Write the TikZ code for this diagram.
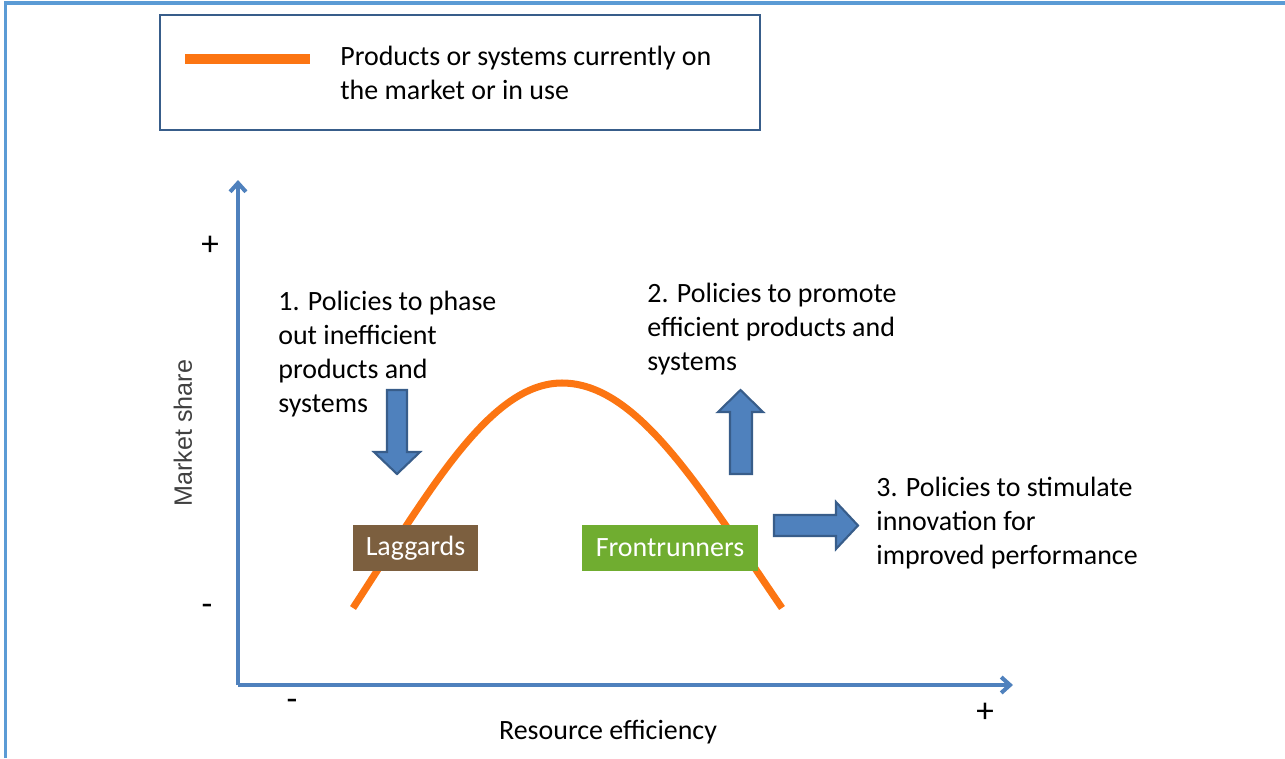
\documentclass[tikz,border=0pt]{standalone}
\usepackage{fontspec}
\setmainfont{Carlito}
\newfontfamily\arialfont{Liberation Sans}
\usetikzlibrary{arrows.meta}

\definecolor{frameblue}{RGB}{91,155,213}
\definecolor{boxblue}{RGB}{56,93,138}
\definecolor{axisblue}{RGB}{79,129,189}
\definecolor{curveorange}{RGB}{252,117,18}
\definecolor{laggardbrown}{RGB}{124,95,63}
\definecolor{runnergreen}{RGB}{112,173,48}
\definecolor{labelgray}{RGB}{64,64,64}

\tikzset{
    axisline/.style={axisblue, line width=2.3pt, -{Straight Barb[length=5pt, width=9pt]}},
    curveline/.style={curveorange, line width=4pt},
    blockarrow/.style={fill=axisblue, draw=boxblue, line width=1.2pt, line join=miter},
    tagbox/.style={text=white, inner sep=0pt, minimum height=0.92cm},
    policytext/.style={anchor=north west, align=left, inner sep=0pt},
    signtext/.style={inner sep=0pt, font=\fontsize{20}{24}\selectfont}
}

\begin{document}
\begin{tikzpicture}[x=0.02cm, y=-0.02cm, font=\fontsize{15.9}{19.3}\selectfont]
    \useasboundingbox (0,0) rectangle (1285,758);
    \draw[frameblue, line width=1.8pt] (5.5,758) -- (5.5,3) -- (1285,3);

    % legend
    \draw[boxblue, line width=1.2pt] (160,15) rectangle (760,130);
    \coordinate (legA) at (185,59);
    \coordinate (legB) at (310,59);
    \draw[curveorange, line width=5.5pt] (legA) -- (legB);
    \node[policytext] (legtext) at (340,46) {Products or systems currently on\\the market or in use};

    % axes
    \coordinate (O) at (238,685);
    \coordinate (ytop) at (238,180);
    \coordinate (xright) at (1013,685);
    \draw[axisline] (O) -- (ytop);
    \draw[axisline] (O) -- (xright);
    \node[signtext] (yplus) at (210,246) {+};
    \node[signtext] (yminus) at (207,610) {-};
    \node[signtext] (xminus) at (292,705) {-};
    \node[signtext] (xplus) at (985,713) {+};
    \node[rotate=90, text=labelgray, font=\arialfont\fontsize{14.3}{17}\selectfont] (ylabel) at (183,433) {Market share};
    \node (xlabel) at (608,732) {Resource efficiency};

    % market curve
    \coordinate (cleft) at (353,608);
    \coordinate (cpeak) at (562,383);
    \coordinate (cright) at (782,608);
    \draw[curveline] (cleft) .. controls (430,490) and (490,383) .. (cpeak)
        .. controls (638,383) and (701,490) .. (cright);

    \node[tagbox, fill=laggardbrown, minimum width=2.5cm] (laggards) at (415.5,548) {Laggards};
    \node[tagbox, fill=runnergreen, minimum width=3.52cm] (runners) at (670,548) {Frontrunners};

    % policy arrows
    \draw[blockarrow] (387,390) -- (407,390) -- (407,452) -- (420,452) -- (397,474) -- (374,452) -- (387,452) -- cycle;
    \draw[blockarrow] (730,474) -- (752,474) -- (752,412) -- (763,412) -- (740.5,390) -- (718,412) -- (730,412) -- cycle;
    \draw[blockarrow] (774,515) -- (836,515) -- (836,502) -- (858,525.5) -- (836,549) -- (836,536) -- (774,536) -- cycle;

    \node[policytext] (phaseout) at (278,291) {1. Policies to phase\\out inefficient\\products and\\systems};
    \node[policytext] (promote) at (647,283) {2. Policies to promote\\efficient products and\\systems};
    \node[policytext] (stimulate) at (876,477) {3. Policies to stimulate\\innovation for\\improved performance};
\end{tikzpicture}
\end{document}
